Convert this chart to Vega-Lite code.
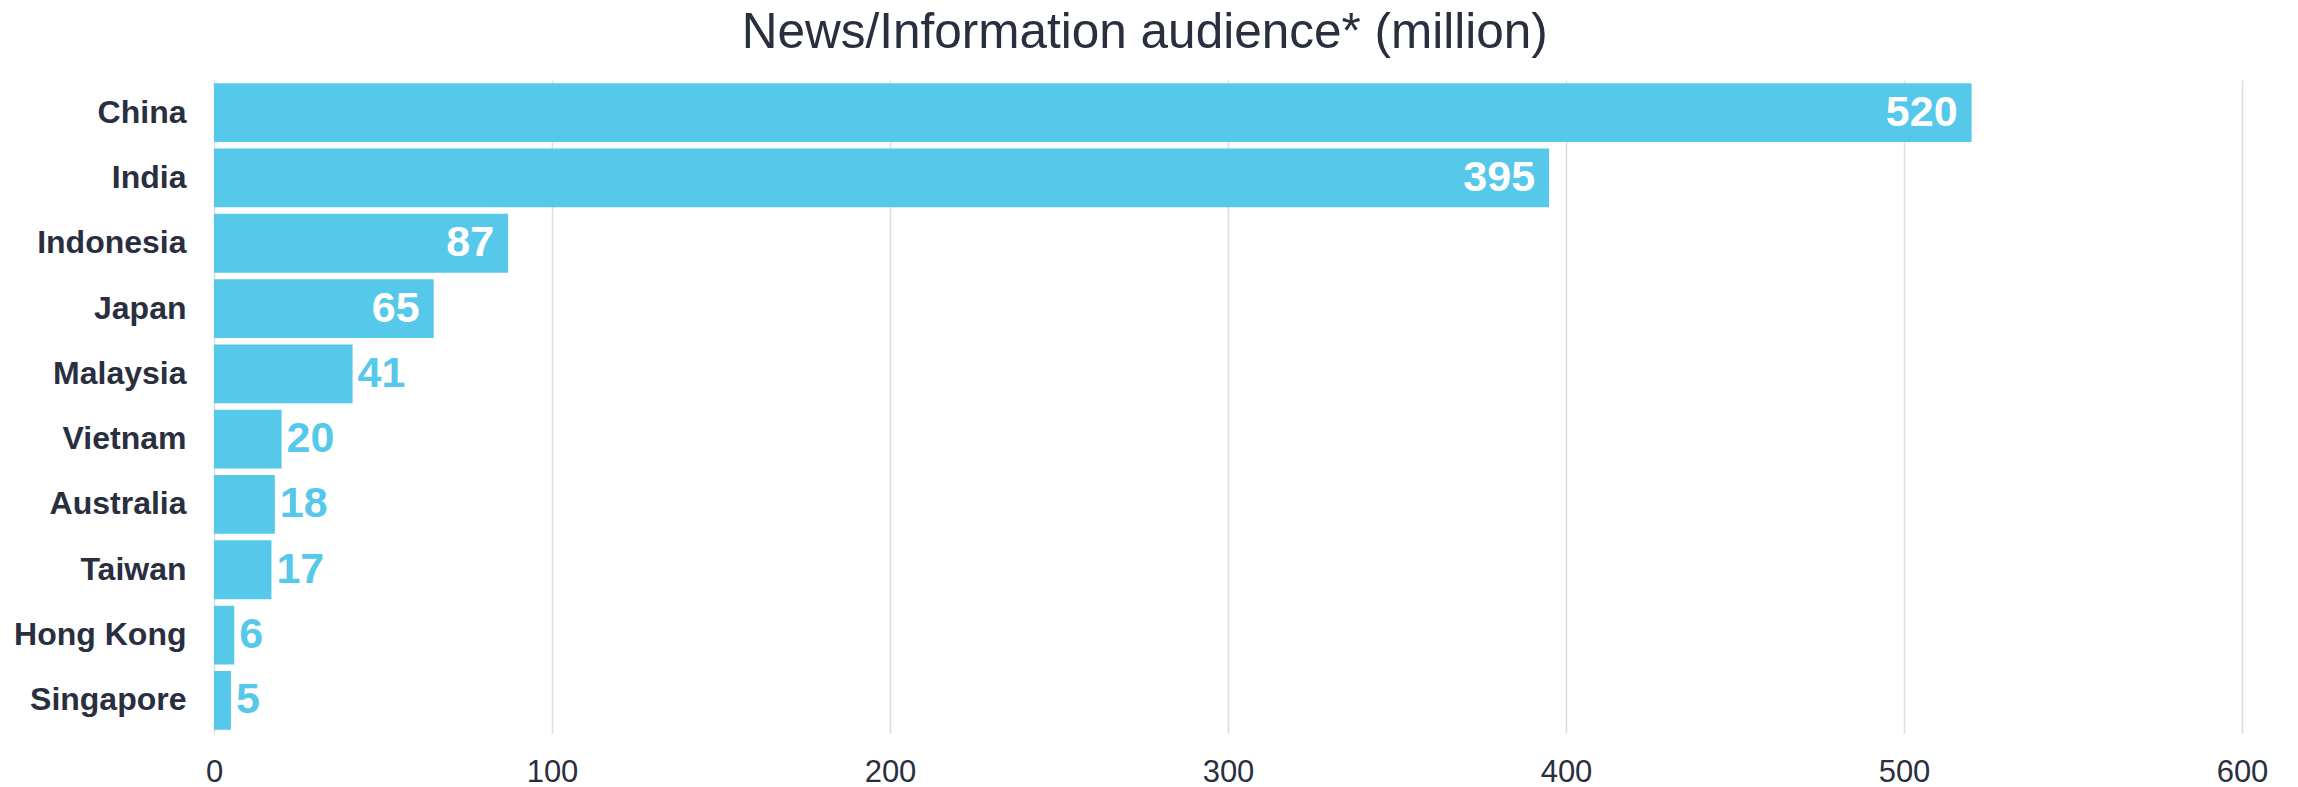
{
  "$schema": "https://vega.github.io/schema/vega-lite/v6.json",
  "autosize": "none",
  "width": 2028,
  "height": 653,
  "padding": {"left": 214, "top": 80, "right": 56, "bottom": 54},
  "background": "white",
  "config": {
    "font": "Liberation Sans",
    "view": {"stroke": null}
  },
  "title": {
    "text": "News/Information audience* (million)",
    "fontSize": 49.5,
    "fontWeight": "normal",
    "color": "#2A2F3F",
    "anchor": "middle",
    "frame": "bounds",
    "offset": 22,
    "dx": 4
  },
  "data": {
    "values": [
      {"country": "China", "audience": 520},
      {"country": "India", "audience": 395},
      {"country": "Indonesia", "audience": 87},
      {"country": "Japan", "audience": 65},
      {"country": "Malaysia", "audience": 41},
      {"country": "Vietnam", "audience": 20},
      {"country": "Australia", "audience": 18},
      {"country": "Taiwan", "audience": 17},
      {"country": "Hong Kong", "audience": 6},
      {"country": "Singapore", "audience": 5}
    ]
  },
  "encoding": {
    "y": {
      "field": "country",
      "type": "nominal",
      "sort": null,
      "scale": {"paddingInner": 0.1, "paddingOuter": 0.05},
      "axis": {
        "title": null,
        "ticks": false,
        "domain": false,
        "grid": false,
        "labelFontSize": 32,
        "labelFontWeight": "bold",
        "labelColor": "#2A2F3F",
        "labelPadding": 28
      }
    },
    "x": {
      "field": "audience",
      "type": "quantitative",
      "scale": {"domain": [0, 600], "nice": false},
      "axis": {
        "title": null,
        "values": [0, 100, 200, 300, 400, 500, 600],
        "ticks": false,
        "domain": false,
        "grid": true,
        "gridColor": "#DCDCE8",
        "gridWidth": 1.5,
        "labelFlush": false,
        "labelFontSize": 31,
        "labelColor": "#2A2F3F",
        "labelPadding": 24
      }
    }
  },
  "layer": [
    {"mark": {"type": "bar", "color": "#56C8E9"}},
    {
      "transform": [{"filter": "datum.audience >= 60"}],
      "mark": {"type": "text", "align": "right", "baseline": "middle", "dx": -14, "fontSize": 43, "fontWeight": "bold", "color": "white"},
      "encoding": {"text": {"field": "audience", "type": "quantitative"}}
    },
    {
      "transform": [{"filter": "datum.audience < 60"}],
      "mark": {"type": "text", "align": "left", "baseline": "middle", "dx": 5, "fontSize": 43, "fontWeight": "bold", "color": "#56C8E9"},
      "encoding": {"text": {"field": "audience", "type": "quantitative"}}
    }
  ]
}
